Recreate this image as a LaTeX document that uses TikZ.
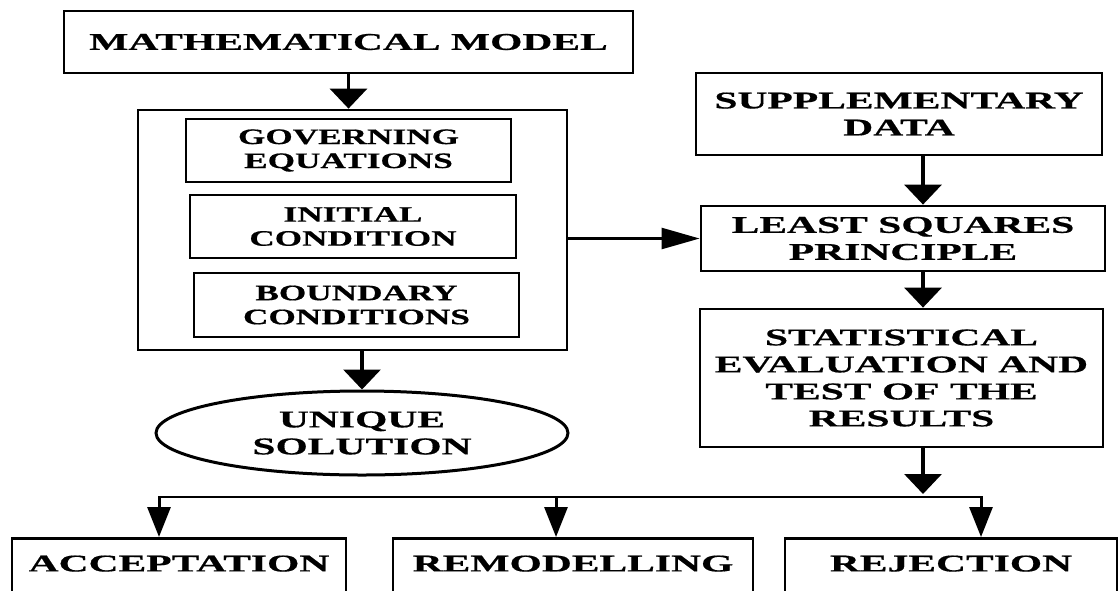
\documentclass[tikz,border=0pt]{standalone}
\usepackage{fontspec}
\usetikzlibrary{arrows.meta, shapes.geometric}
\newfontfamily\boxfont{Liberation Serif}[FakeStretch=1.73,FakeBold=0.6]
\newfontfamily\subfont{Liberation Serif}[FakeStretch=1.6,FakeBold=0.6]

\begin{document}
\begin{tikzpicture}[x=1pt,y=-1pt,
    box/.style={draw,line width=2.8pt,align=center,inner sep=0pt,
      font={\boxfont\bfseries\fontsize{24}{27}\selectfont}},
    subbox/.style={draw,line width=1.6pt,align=center,inner sep=0pt,
      minimum width=325pt,minimum height=63pt,
      font={\subfont\bfseries\fontsize{22}{24}\selectfont}},
    endbox/.style={box,anchor=north,text height=16pt,text depth=30pt,inner ysep=17pt},
    bigarrow/.style={line width=3.5pt,-{Triangle[width=37pt,length=20pt]}},
    sidearrow/.style={line width=2.5pt,-{Triangle[width=21pt,length=38pt]}},
    droparrow/.style={line width=3pt,-{Triangle[width=23pt,length=30pt]}}]
  \useasboundingbox (0,0) rectangle (1118,590);
  \clip (0,0) rectangle (1118,590);

  % Model and its parts
  \node[box,minimum width=569pt,minimum height=62pt] (model) at (348.5,42) {MATHEMATICAL MODEL};
  \node[box,minimum width=429pt,minimum height=240pt] (frame) at (352.5,230) {};
  \node[subbox] (gov) at (348.5,150.5) {GOVERNING\\EQUATIONS};
  \node[subbox,minimum width=326pt] (init) at (353,226.5) {INITIAL\\CONDITION};
  \node[subbox,minimum height=64pt] (bound) at (356.5,305) {BOUNDARY\\CONDITIONS};
  \node[box,ellipse,line width=3pt,minimum width=412pt,minimum height=84pt] (unique) at (362,433) {UNIQUE\\SOLUTION};

  % Right column
  \node[box,minimum width=406pt,minimum height=82pt] (supp) at (899,114) {SUPPLEMENTARY\\DATA};
  \node[box,minimum width=404pt,minimum height=65pt] (least) at (903,238.5) {LEAST SQUARES\\PRINCIPLE};
  \node[box,minimum width=403pt,minimum height=138pt] (stat) at (901.5,378) {STATISTICAL\\EVALUATION AND\\TEST OF THE\\RESULTS};

  % Outcomes
  \node[endbox,minimum width=334pt] (acc) at (179,537) {ACCEPTATION};
  \node[endbox,minimum width=360pt] (remod) at (573,537) {REMODELLING};
  \node[endbox,minimum width=332pt] (rej) at (951,537) {REJECTION};

  \coordinate (rcol) at (923,0);
  \coordinate (bl) at (159,497);
  \coordinate (bm) at (556,497);
  \coordinate (br) at (981,497);

  % Arrows
  \draw[bigarrow] (model.south) -- (model.south |- frame.north);
  \draw[bigarrow] (unique.north |- frame.south) -- (unique.north);
  \draw[sidearrow] (frame.east |- least.west) -- (least.west);
  \draw[bigarrow] (supp.south -| rcol) -- (least.north -| rcol);
  \draw[bigarrow] (least.south -| rcol) -- (stat.north -| rcol);
  \draw[bigarrow,shorten >=3pt] (stat.south -| rcol) -- (rcol |- bl);
  \draw[line width=2pt] (bl) -- (br);
  \foreach \c/\b in {bl/acc, bm/remod, br/rej}
    \draw[droparrow] ([yshift=1pt]\c) -- (\c |- \b.north);
\end{tikzpicture}
\end{document}
